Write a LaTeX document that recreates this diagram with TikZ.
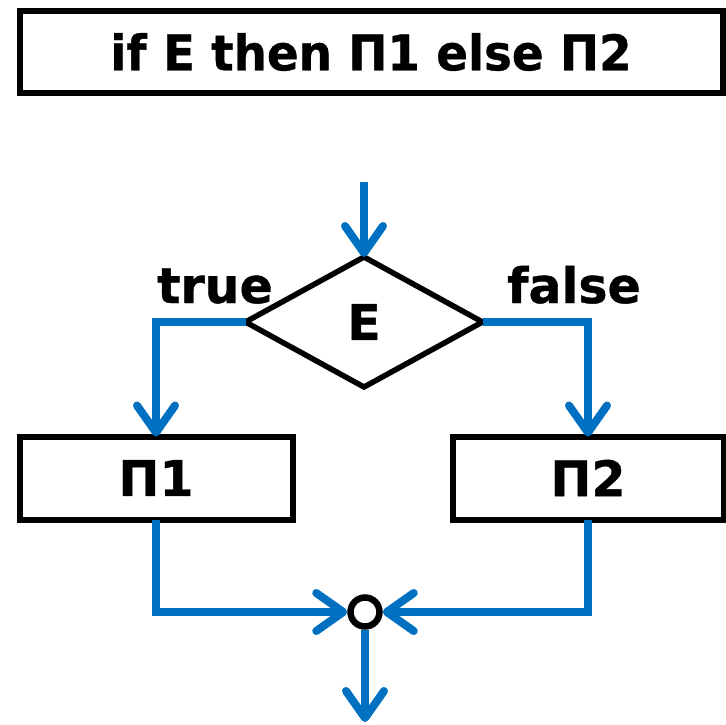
\documentclass[tikz,border=0pt]{standalone}
\usepackage{fontspec}
\setmainfont{DejaVu Sans}[BoldFeatures={FakeBold=0.8}]
\usetikzlibrary{shapes.geometric,arrows.meta}
\definecolor{flowblue}{RGB}{0,112,192}
\tikzset{
  big/.style={font=\bfseries\fontsize{49}{50}\selectfont},
  block/.style={draw=black, line width=6pt, rectangle, inner sep=0pt, outer sep=0pt, big},
  test/.style={draw=black, line width=5.5pt, diamond, inner sep=0pt, outer sep=0pt, big},
  junction/.style={draw=black, line width=6.5pt, circle, fill=white, minimum size=29pt, inner sep=0pt},
  flow/.style={draw=flowblue, line width=8pt,
    -{Straight Barb[round, length=27pt, width=38pt]}},
  lbl/.style={big, inner sep=0pt, anchor=base},
}
\begin{document}
\begin{tikzpicture}[x=1pt, y=-1pt]
\useasboundingbox (0,0) rectangle (726,724);
% statement header
\node[block, minimum width=703pt, minimum height=82pt] (title) at (371,52)
  {\raisebox{-3pt}{\scalebox{0.955}[1]{if E then П1 else П2}}};
% condition and the two branches
\node[test, minimum width=237pt, minimum height=130pt] (cond) at (364,322)
  {\raisebox{-3pt}{E}};
\node[block, minimum width=273pt, minimum height=83pt] (p1) at (156,478)
  {\raisebox{-4pt}{П1}};
\node[block, minimum width=271pt, minimum height=83pt] (p2) at (588,478)
  {\raisebox{-4pt}{П2}};
\node[junction] (join) at (365,612) {};
\node[lbl] (ltrue) at (215,303) {true};
\node[lbl] (lfalse) at (574,303) {false};
\coordinate (entry) at (364,182);
\coordinate (exit) at (365,722);
% control flow
\draw[flow] (entry) -- (cond.north);
\draw[flow] (cond.west) -| (p1.north);
\draw[flow] (cond.east) -| (p2.north);
\draw[flow] (p1.south) |- (join.west);
\draw[flow] (p2.south) |- (join.east);
\draw[flow] (join.south) -- (exit);
\end{tikzpicture}
\end{document}
